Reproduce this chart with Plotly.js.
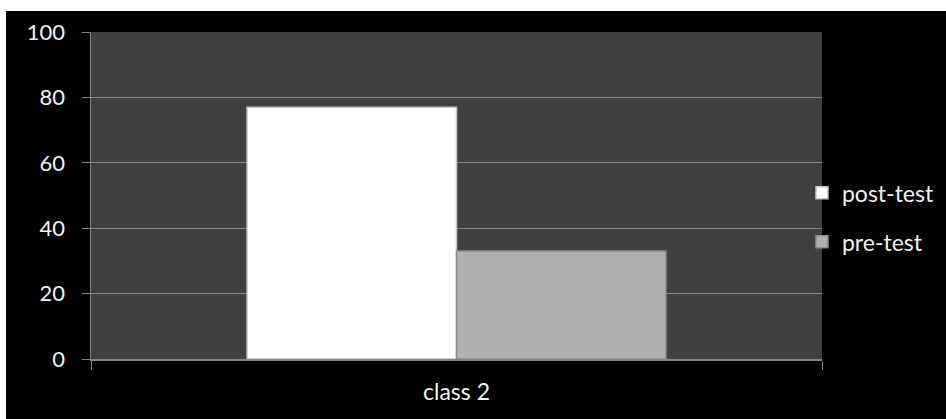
<!DOCTYPE html>
<html>
<head>
<meta charset="utf-8">
<script src="https://cdn.plot.ly/plotly-3.0.1.min.js"></script>
<style>
  html, body { margin: 0; padding: 0; background: #ffffff; width: 946px; height: 419px; overflow: hidden; }
  #chart { position: absolute; left: 6px; top: 11px; width: 960px; height: 408px; }
</style>
</head>
<body>
<div id="chart"></div>
<script>
const categories = ["class 2"];
const seriesNames = ["post-test", "pre-test"];
const postTest = [77];
const preTest = [33];
const yTicks = [0, 20, 40, 60, 80, 100];

const fontFam = "Lato, 'Open Sans', sans-serif";

const traces = [
  {
    type: "bar", name: seriesNames[0], x: categories, y: postTest,
    legendgroup: "a",
    marker: { color: "#ffffff", line: { color: "#c4c4c4", width: 1.5 } },
    hoverinfo: "skip"
  },
  {
    type: "bar", name: seriesNames[1], x: categories, y: preTest,
    legendgroup: "b",
    marker: { color: "#b0b0b0", line: { color: "#8c8c8c", width: 1.5 } },
    hoverinfo: "skip"
  }
];

const layout = {
  width: 960, height: 408,
  margin: { l: 85, r: 144, t: 21, b: 60, pad: 0 },
  paper_bgcolor: "#000000",
  plot_bgcolor: "#404040",
  barmode: "group",
  bargap: 0.427,
  bargroupgap: 0,
  font: { family: fontFam, color: "#f2f2f2", size: 20 },
  showlegend: true,
  legend: {
    x: 0.9726, xanchor: "left", y: 0.433, yanchor: "middle",
    font: { family: fontFam, size: 23, color: "#f2f2f2" },
    bgcolor: "rgba(0,0,0,0)",
    traceorder: "grouped",
    tracegroupgap: 16,
    itemwidth: 30
  },
  xaxis: {
    type: "category",
    tickson: "boundaries",
    ticks: "outside", ticklen: 9, tickcolor: "#868686", tickwidth: 1,
    showline: true, linecolor: "#868686", linewidth: 1.5,
    showgrid: false, zeroline: false,
    ticklabelstandoff: 12,
    tickfont: { family: fontFam, size: 23, color: "#f2f2f2" }
  },
  yaxis: {
    range: [0, 100],
    tickvals: yTicks,
    ticktext: yTicks.map(String),
    ticks: "outside", ticklen: 8, tickcolor: "#868686", tickwidth: 1,
    showline: true, linecolor: "#868686", linewidth: 1.5,
    showgrid: true, gridcolor: "#868686", gridwidth: 1,
    zeroline: false,
    ticklabelstandoff: 12,
    tickfont: { family: fontFam, size: 22, color: "#f2f2f2" }
  }
};

Plotly.newPlot("chart", traces, layout, { staticPlot: true, displayModeBar: false });
</script>
</body>
</html>
